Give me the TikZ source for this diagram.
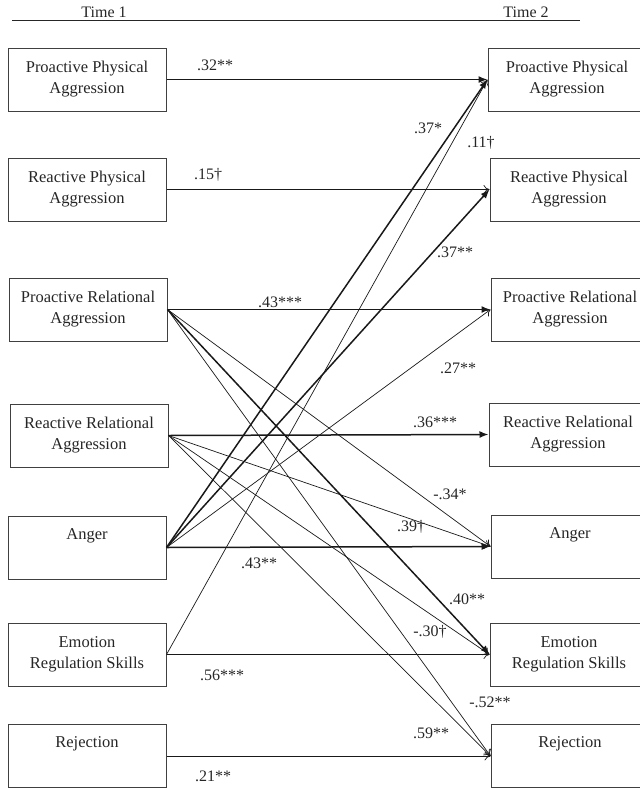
\documentclass[tikz,border=0pt]{standalone}
\usepackage{fontspec}
\setmainfont{Liberation Serif}
\usetikzlibrary{arrows.meta}

\begin{document}
\begin{tikzpicture}[x=1pt, y=-1pt,
    var/.style={draw=black!75, line width=1pt, minimum width=158pt, minimum height=63pt,
      inner sep=0pt, align=center, text=black!85, font=\fontsize{16.5}{21}\selectfont},
    coef/.style={text=black!85, inner sep=0pt, font=\fontsize{16}{18}\selectfont},
    strong/.style={draw=black!90, line width=1.5pt, -{Latex[length=9pt,width=7pt]}},
    weak/.style={draw=black!90, line width=0.7pt, -{To[length=6pt,width=9pt]}}]
    \useasboundingbox (0,0) rectangle (640,788);
    \clip (0,0) rectangle (640,788);

    % Header
    \draw[black!85, line width=0.8pt] (12,20) -- (580,20);
    \node[coef] (time1) at (104,12) {Time 1};
    \node[coef] (time2) at (526,12) {Time 2};

    % Time 1 variables
    \node[var] (ppa1) at (87,79.5)  {Proactive Physical\\Aggression};
    \node[var] (rpa1) at (87,189.5) {Reactive Physical\\Aggression};
    \node[var] (pra1) at (88,309.5) {Proactive Relational\\Aggression};
    \node[var] (rra1) at (89,435.5) {Reactive Relational\\Aggression};
    \node[var] (ang1) at (87,547.5) {Anger\\\strut};
    \node[var] (ers1) at (87,654.5) {Emotion\\Regulation Skills};
    \node[var] (rej1) at (87,756)   {Rejection\\\strut};

    % Time 2 variables
    \node[var] (ppa2) at (567,79.5)  {Proactive Physical\\Aggression};
    \node[var] (rpa2) at (569,189.5) {Reactive Physical\\Aggression};
    \node[var] (pra2) at (570,309.5) {Proactive Relational\\Aggression};
    \node[var] (rra2) at (568,434.5) {Reactive Relational\\Aggression};
    \node[var] (ang2) at (570,546.5) {Anger\\\strut};
    \node[var] (ers2) at (569,654.5) {Emotion\\Regulation Skills};
    \node[var] (rej2) at (570,756)   {Rejection\\\strut};

    % Stability paths
    \draw[strong] (ppa1.east) -- (ppa2.west);
    \draw[weak]   (rpa1.east) -- (rpa2.west);
    \draw[strong] (pra1.east) -- (pra2.west);
    \draw[strong] (rra1.east) -- (rra2.west);
    \draw[strong] (ang1.east) -- (ang2.west);
    \draw[weak]   (ers1.east) -- (ers2.west);
    \draw[weak]   (rej1.east) -- (rej2.west);

    % Cross-lagged paths
    \draw[strong] (ang1.east) -- (ppa2.west);
    \draw[strong] (ang1.east) -- (rpa2.west);
    \draw[weak]   (ang1.east) -- (pra2.west);
    \draw[weak]   (ers1.east) -- (ppa2.west);
    \draw[weak]   (pra1.east) -- (ang2.west);
    \draw[strong] (pra1.east) -- (ers2.west);
    \draw[weak]   (pra1.east) -- (rej2.west);
    \draw[weak]   (rra1.east) -- (ang2.west);
    \draw[weak]   (rra1.east) -- (ers2.west);
    \draw[weak]   (rra1.east) -- (rej2.west);

    % Coefficients
    \node[coef] (b-ppa)    at (215,65)  {.32**};
    \node[coef] (b-rpa)    at (208,175) {.15†};
    \node[coef] (b-pra)    at (280,302) {.43***};
    \node[coef] (b-rra)    at (435,422) {.36***};
    \node[coef] (b-ang)    at (259,563) {.43**};
    \node[coef] (b-ers)    at (222,675) {.56***};
    \node[coef] (b-rej)    at (213,776) {.21**};
    \node[coef] (b-angppa) at (428,128) {.37*};
    \node[coef] (b-ersppa) at (481,143) {.11†};
    \node[coef] (b-angrpa) at (455,252) {.37**};
    \node[coef] (b-angpra) at (458,368) {.27**};
    \node[coef] (b-praang) at (450,494) {-.34*};
    \node[coef] (b-rraang) at (411,527) {.39†};
    \node[coef] (b-praers) at (467,599) {.40**};
    \node[coef] (b-rraers) at (430,632) {-.30†};
    \node[coef] (b-prarej) at (490,702) {-.52**};
    \node[coef] (b-rrarej) at (431,733) {.59**};
\end{tikzpicture}
\end{document}
